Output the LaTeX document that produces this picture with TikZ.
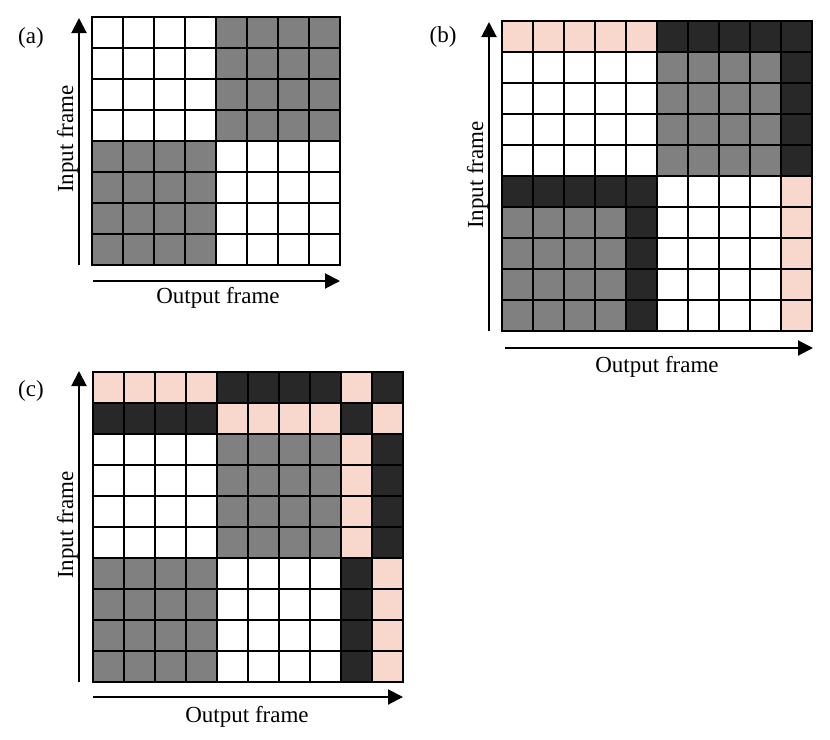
\documentclass[tikz,border=0pt]{standalone}
\usepackage{fontspec}
\setmainfont{Liberation Serif}
\usetikzlibrary{arrows.meta}
\definecolor{cgray}{RGB}{128,128,128}
\definecolor{cdark}{RGB}{40,40,40}
\definecolor{cpink}{RGB}{248,216,204}
\newcommand\blk[7]{\fill[#7] ({#1+#3*31},{#2+#4*31}) rectangle ({#1+#5*31},{#2+#6*31});}
\newcommand\mygrid[4]{%
  \foreach \i in {1,...,#4}{%
    \draw[gline] ({#1+\i*31},#2) -- ({#1+\i*31},{#2+#3*31});
    \draw[gline] (#1,{#2+\i*31}) -- ({#1+#3*31},{#2+\i*31});
  }
  \draw[gborder] (#1,#2) rectangle ({#1+#3*31},{#2+#3*31});
}
\begin{document}
\begin{tikzpicture}[x=1pt,y=-1pt,
  gline/.style={line width=1.5pt,black},
  gborder/.style={line width=2pt,black},
  axis/.style={line width=2pt,-{Triangle[length=15pt,width=15pt]}},
  lbl/.style={font=\fontsize{23}{27}\selectfont,inner sep=0pt}]
\useasboundingbox (0,0) rectangle (830,739);
\fill[white] (0,0) rectangle (830,739);
% ---------- (a) ----------
\blk{92}{17}{4}{0}{8}{4}{cgray}
\blk{92}{17}{0}{4}{4}{8}{cgray}
\mygrid{92}{17}{8}{7}
\coordinate (a1) at (79,265); \coordinate (a2) at (79,18);
\coordinate (a3) at (93,281); \coordinate (a4) at (340,281);
\draw[axis] (a1) -- (a2);
\draw[axis] (a3) -- (a4);
\node[lbl] (la) at (31,38) {(a)};
\node[lbl,rotate=90,anchor=base] (ia) at (73,139) {Input frame};
\node[lbl,anchor=base] (oa) at (218,303) {Output frame};
% ---------- (b) ----------
\blk{502}{21}{0}{0}{5}{1}{cpink}
\blk{502}{21}{5}{0}{10}{1}{cdark}
\blk{502}{21}{5}{1}{9}{5}{cgray}
\blk{502}{21}{9}{1}{10}{5}{cdark}
\blk{502}{21}{0}{5}{5}{6}{cdark}
\blk{502}{21}{9}{5}{10}{10}{cpink}
\blk{502}{21}{0}{6}{4}{10}{cgray}
\blk{502}{21}{4}{6}{5}{10}{cdark}
\mygrid{502}{21}{10}{9}
\coordinate (b1) at (489,331); \coordinate (b2) at (489,22);
\coordinate (b3) at (505,348); \coordinate (b4) at (813,348);
\draw[axis] (b1) -- (b2);
\draw[axis] (b3) -- (b4);
\node[lbl] (lb) at (443,37) {(b)};
\node[lbl,rotate=90,anchor=base] (ib) at (483,175) {Input frame};
\node[lbl,anchor=base] (ob) at (657,372) {Output frame};
% ---------- (c) ----------
\blk{93}{372}{0}{0}{4}{1}{cpink}
\blk{93}{372}{4}{0}{8}{1}{cdark}
\blk{93}{372}{8}{0}{9}{1}{cpink}
\blk{93}{372}{9}{0}{10}{1}{cdark}
\blk{93}{372}{0}{1}{4}{2}{cdark}
\blk{93}{372}{4}{1}{8}{2}{cpink}
\blk{93}{372}{8}{1}{9}{2}{cdark}
\blk{93}{372}{9}{1}{10}{2}{cpink}
\blk{93}{372}{4}{2}{8}{6}{cgray}
\blk{93}{372}{8}{2}{9}{6}{cpink}
\blk{93}{372}{9}{2}{10}{6}{cdark}
\blk{93}{372}{0}{6}{4}{10}{cgray}
\blk{93}{372}{8}{6}{9}{10}{cdark}
\blk{93}{372}{9}{6}{10}{10}{cpink}
\mygrid{93}{372}{10}{9}
\coordinate (c1) at (79,682); \coordinate (c2) at (79,371);
\coordinate (c3) at (93,697); \coordinate (c4) at (403,697);
\draw[axis] (c1) -- (c2);
\draw[axis] (c3) -- (c4);
\node[lbl] (lc) at (31,391) {(c)};
\node[lbl,rotate=90,anchor=base] (ic) at (73,525) {Input frame};
\node[lbl,anchor=base] (oc) at (247,722) {Output frame};
\end{tikzpicture}
\end{document}
